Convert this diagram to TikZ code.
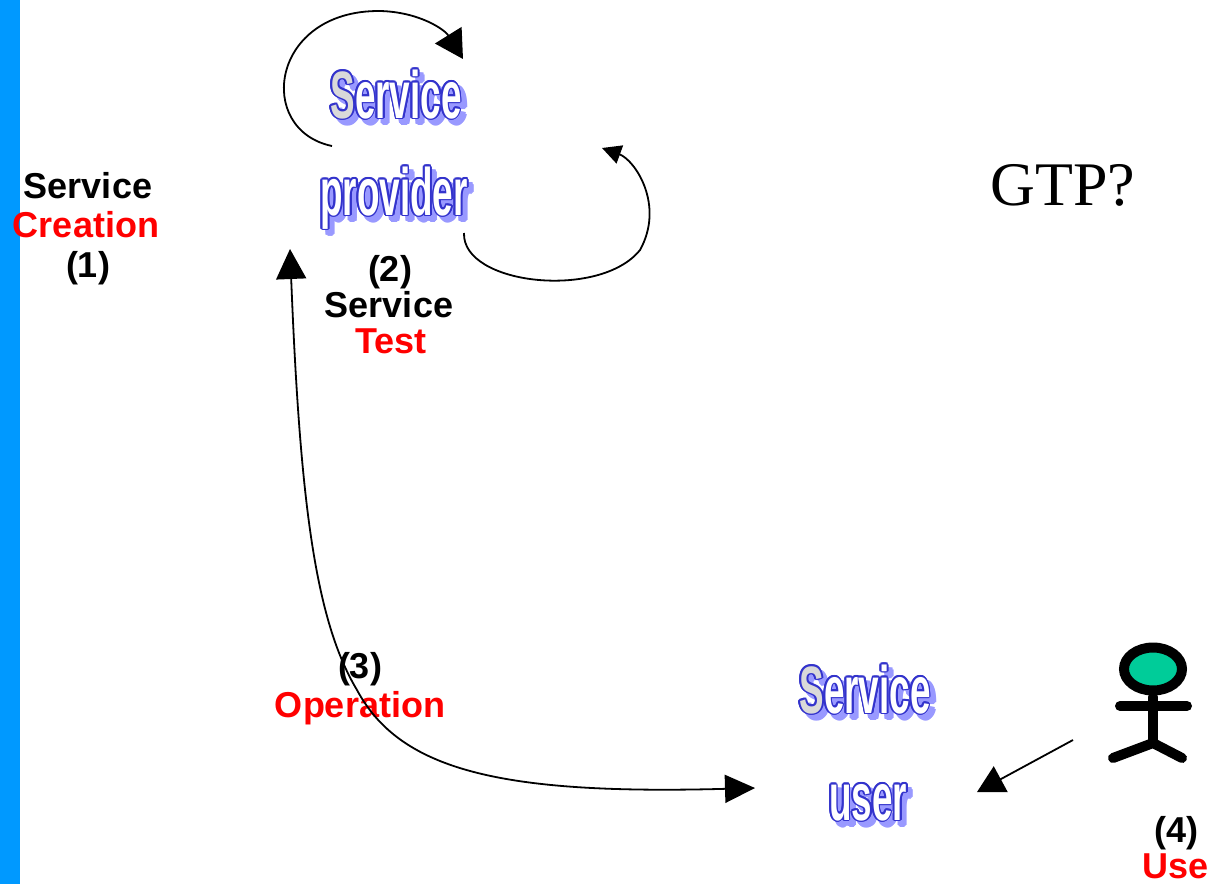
\documentclass[tikz,border=0pt]{standalone}
\usepackage{fontspec}
\usepackage{graphicx}
\setmainfont{Liberation Sans}
\newfontfamily\gtpfont{Liberation Serif}
\usetikzlibrary{arrows.meta}
\definecolor{barblue}{HTML}{0099FF}
\definecolor{shadowc}{HTML}{9999FF}
\definecolor{outc}{HTML}{3333CC}
\definecolor{sfill}{HTML}{D9D9D9}
\definecolor{headgreen}{HTML}{00CC99}
\definecolor{lblred}{HTML}{FF0000}
\newcommand\fccol{black}
\newcommand\fc[1]{\textcolor{\fccol}{#1}}
\tikzset{
  lbl/.style={anchor=base, inner sep=0pt, font=\bfseries\fontsize{36}{38}\selectfont},
  lblr/.style={lbl, text=lblred},
  wa/.style={anchor=base, inner sep=0pt, font=\bfseries\fontsize{67}{67}\selectfont},
  conn/.style={line width=1.8pt, black},
  limb/.style={line width=10pt, line cap=round, line join=round, black},
}
\newcommand\wordart[3]{%
  \foreach \ang in {0,45,...,315}{
    \node[wa, text=shadowc, shift={({5+2*cos(\ang)},{5+2*sin(\ang)})}] (#1-s\ang) at (#2) {\def\fccol{shadowc}\scalebox{0.55}[1]{#3}};
  }
  \foreach \ang in {0,30,...,330}{
    \node[wa, text=outc, shift={({1.8*cos(\ang)},{1.8*sin(\ang)})}] (#1-o\ang) at (#2) {\def\fccol{outc}\scalebox{0.55}[1]{#3}};
  }
  \node[wa, text=white] (#1) at (#2) {\def\fccol{sfill}\scalebox{0.55}[1]{#3}};
}
\begin{document}
\begin{tikzpicture}[x=1pt, y=-1pt]
\useasboundingbox (0,0) rectangle (1216,884);
\fill[white] (0,0) rectangle (1216,884);
\fill[barblue] (0,0) rectangle (20,884);

% word-art labels
\wordart{sp1}{396,118}{\fc{S}ervice}
\wordart{sp2}{394,215}{provider}
\wordart{su1}{865,713}{\fc{S}ervice}
\wordart{su2}{868,820}{user}

% text labels
\node[lbl]  (c1) at (88,198) {Service};
\node[lblr] (c2) at (86,237) {Creation};
\node[lbl]  (c3) at (88,277) {(1)};
\node[lbl]  (t1) at (390,281) {(2)};
\node[lbl]  (t2) at (389,317) {Service};
\node[lblr] (t3) at (391,353) {Test};
\node[lbl]  (o1) at (360,678) {(3)};
\node[lblr] (o2) at (360,717) {Operation};
\node[lbl]  (u1) at (1176,842) {(4)};
\node[lblr] (u2) at (1176,878) {Use};
\node[anchor=base, inner sep=0pt, font=\gtpfont\fontsize{62}{62}\selectfont] (gtp) at (1063,205) {GTP?};

% connectors
\coordinate (tlA) at (332,146);
\coordinate (tlB) at (463,59);
\draw[conn, -{Triangle[length=28pt,width=31pt]}] (tlA) .. controls (255,130) and (270,10) .. (380,11) .. controls (420,12) and (445,30) .. (tlB);

\coordinate (trA) at (464,233);
\coordinate (trB) at (602,148);
\draw[conn, -{Triangle[length=19pt,width=19pt]}] (trA) .. controls (462,285) and (600,300) .. (640,250) .. controls (665,205) and (635,160) .. (trB);

\coordinate (opA) at (290,249);
\coordinate (opB) at (755,788);
\draw[conn, {Triangle[length=30pt,width=30pt]}-{Triangle[length=30pt,width=28pt]}] (opA) .. controls (300,500) and (315,620) .. (357,690) .. controls (400,770) and (500,795) .. (opB);

\coordinate (pA) at (1073,740);
\coordinate (pB) at (977,792);
\draw[conn, -{Triangle[length=27pt,width=29pt]}] (pA) -- (pB);

% stick figure
\draw[line width=10pt, fill=headgreen] (1153,669) ellipse [x radius=29pt, y radius=21.5pt];
\draw[limb] (1153,697) -- (1153,743);
\draw[limb] (1120,706) -- (1187,706);
\draw[limb] (1113,758) -- (1153,743) -- (1182,758);
\end{tikzpicture}
\end{document}
